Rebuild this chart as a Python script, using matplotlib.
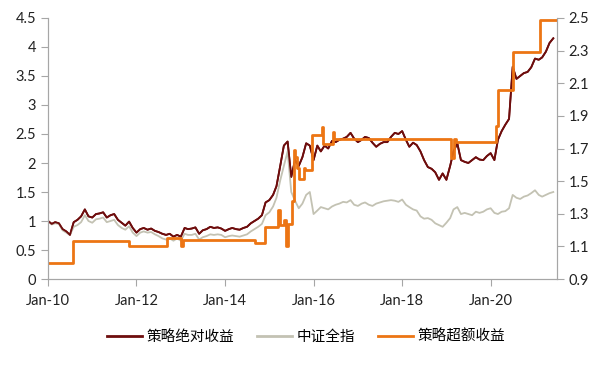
import pandas as pd
import matplotlib
matplotlib.use("Agg")
import matplotlib.pyplot as plt
import matplotlib.dates as mdates

plt.rcParams['font.family'] = ['Lato', 'Noto Sans CJK SC', 'DejaVu Sans']

# monthly readings, strategy absolute return (left axis)
abs_dates = pd.date_range("2010-01-01", "2021-06-01", freq="MS").strftime("%Y-%m-%d").tolist()
abs_vals = [
    1.00, 0.95, 0.98, 0.96, 0.86, 0.82, 0.76, 0.98, 1.02, 1.08, 1.20, 1.08,
    1.06, 1.12, 1.13, 1.15, 1.06, 1.10, 1.12, 1.02, 0.97, 0.92, 0.99, 0.88,
    0.80, 0.86, 0.88, 0.85, 0.87, 0.83, 0.81, 0.78, 0.76, 0.78, 0.73, 0.76,
    0.73, 0.88, 0.86, 0.87, 0.89, 0.78, 0.84, 0.86, 0.90, 0.88, 0.89, 0.87,
    0.83, 0.86, 0.88, 0.86, 0.85, 0.88, 0.90, 0.96, 1.00, 1.04, 1.10, 1.32,
    1.36, 1.45, 1.60, 1.95, 2.30, 2.37, 1.76, 2.05, 1.95, 2.10, 2.34, 2.30,
    2.05, 2.30, 2.20, 2.30, 2.25, 2.38, 2.36, 2.40, 2.42, 2.45, 2.52, 2.42,
    2.36, 2.40, 2.45, 2.43, 2.35, 2.28, 2.33, 2.36, 2.36, 2.45, 2.52, 2.50,
    2.55, 2.40, 2.28, 2.35, 2.31, 2.20, 2.05, 1.93, 1.90, 1.84, 1.71, 1.82,
    1.71, 1.95, 2.20, 2.34, 2.05, 2.02, 2.00, 2.05, 2.10, 2.06, 2.05, 2.12,
    2.17, 2.05, 2.40, 2.55, 2.66, 2.76, 3.66, 3.45, 3.50, 3.55, 3.57, 3.65,
    3.80, 3.78, 3.82, 3.92, 4.07, 4.15,
]

# CSI all-share index (left axis)
idx_vals = [
    1.00, 0.94, 0.96, 0.95, 0.84, 0.80, 0.76, 0.90, 0.93, 0.98, 1.10, 1.00,
    0.97, 1.03, 1.04, 1.06, 0.98, 1.00, 1.02, 0.93, 0.88, 0.85, 0.91, 0.80,
    0.74, 0.80, 0.82, 0.80, 0.81, 0.77, 0.74, 0.70, 0.68, 0.70, 0.66, 0.70,
    0.66, 0.78, 0.76, 0.76, 0.78, 0.68, 0.72, 0.74, 0.77, 0.76, 0.77, 0.76,
    0.72, 0.74, 0.75, 0.74, 0.73, 0.75, 0.77, 0.82, 0.86, 0.90, 0.95, 1.10,
    1.15, 1.25, 1.40, 1.70, 1.95, 2.20, 1.50, 1.35, 1.22, 1.30, 1.45, 1.50,
    1.12, 1.18, 1.24, 1.22, 1.20, 1.25, 1.28, 1.30, 1.33, 1.32, 1.36, 1.28,
    1.26, 1.30, 1.32, 1.28, 1.26, 1.30, 1.32, 1.34, 1.35, 1.36, 1.35, 1.33,
    1.37, 1.28, 1.24, 1.20, 1.18, 1.08, 1.04, 1.05, 1.02, 0.96, 0.93, 0.90,
    0.97, 1.05, 1.20, 1.24, 1.12, 1.14, 1.12, 1.10, 1.16, 1.14, 1.16, 1.20,
    1.22, 1.14, 1.12, 1.16, 1.17, 1.22, 1.45, 1.40, 1.38, 1.42, 1.44, 1.48,
    1.53, 1.45, 1.42, 1.45, 1.48, 1.50,
]

# strategy excess return (right axis), step changes
exc_dates = [
    "2010-01-04", "2010-07-23", "2011-10-31", "2012-09-10", "2013-01-04",
    "2013-01-18", "2014-09-01", "2014-11-25", "2015-03-16", "2015-03-30",
    "2015-05-05", "2015-05-22", "2015-06-05", "2015-07-06", "2015-07-20",
    "2015-08-03", "2015-08-14", "2015-09-01", "2015-10-12", "2015-10-19",
    "2015-12-21", "2016-03-07", "2016-03-21", "2016-06-13", "2016-06-20",
    "2019-02-11", "2019-03-04", "2019-03-18", "2020-02-17", "2020-03-02",
    "2020-07-03", "2021-02-15", "2021-06-28",
]
exc_vals = [
    1.00, 1.13, 1.10, 1.15, 1.10,
    1.14, 1.12, 1.22, 1.32, 1.23,
    1.26, 1.10, 1.24, 1.38, 1.69,
    1.65, 1.58, 1.51, 1.58, 1.57,
    1.78, 1.83, 1.73, 1.80, 1.76,
    1.64, 1.76, 1.74, 1.84, 2.06,
    2.29, 2.49, 2.49,
]

labels = ["策略绝对收益", "中证全指", "策略超额收益"]

fig = plt.figure(figsize=(6.1, 3.65), dpi=100)
ax = fig.add_axes([0.0787, 0.2356, 0.8343, 0.7151])
ax2 = ax.twinx()

d1 = pd.to_datetime(abs_dates)
l1, = ax.plot(d1, abs_vals, color="#6e0d0d", lw=1.3, label=labels[0])
l2, = ax.plot(d1, idx_vals, color="#c3c2b3", lw=1.3, label=labels[1])
ax.plot(d1, abs_vals, color="#6e0d0d", lw=1.3)
l3, = ax2.plot(pd.to_datetime(exc_dates), exc_vals, color="#ec7514", lw=2.0,
               drawstyle="steps-post", label=labels[2])

ax.set_xlim(pd.Timestamp("2010-01-01"), pd.Timestamp("2021-07-01"))
ax.set_ylim(0, 4.5)
ax2.set_ylim(0.9, 2.5)
ax.set_yticks([i * 0.5 for i in range(10)])
ax.set_yticklabels(["0", "0.5", "1", "1.5", "2", "2.5", "3", "3.5", "4", "4.5"])
ax2.set_yticks([0.9, 1.1, 1.3, 1.5, 1.7, 1.9, 2.1, 2.3, 2.5])
ax2.set_yticklabels(["0.9", "1.1", "1.3", "1.5", "1.7", "1.9", "2.1", "2.3", "2.5"])
ax.xaxis.set_major_locator(mdates.YearLocator(2, month=1, day=1))
ax.xaxis.set_major_formatter(mdates.DateFormatter("Jan-%y"))

for a in (ax, ax2):
    a.spines["top"].set_visible(False)
    for s in ("left", "right", "bottom"):
        a.spines[s].set_color("#a6a6a6")
    a.tick_params(colors="#a6a6a6", labelcolor="#222222", labelsize=10.5,
                  length=5, width=0.8)
ax.tick_params(axis="x", pad=6)

leg = fig.legend([l1, l2, l3], labels, loc="center", bbox_to_anchor=(0.502, 0.077),
                 ncol=3, frameon=False, handlelength=2.4, columnspacing=1.6,
                 handletextpad=0.3, prop={"family": ["Noto Sans CJK SC"], "size": 10.5})
for h in leg.get_lines():
    h.set_linewidth(2.0)

fig.savefig("out.png", dpi=100)
